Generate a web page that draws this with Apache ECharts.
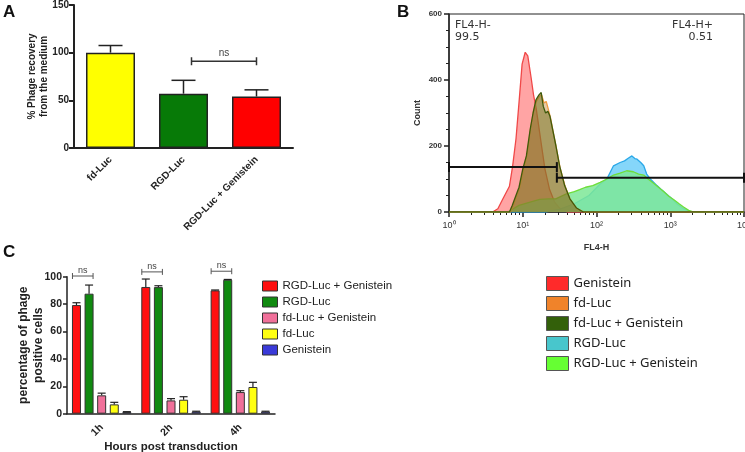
<!DOCTYPE html>
<html>
<head>
<meta charset="utf-8">
<script src="https://cdn.jsdelivr.net/npm/echarts@6/dist/echarts.min.js"></script>
<style>
  html, body { margin: 0; padding: 0; background: #fff; }
  #main { width: 745px; height: 452px; }
</style>
</head>
<body>
<div id="main"></div>
<script>
// ---- panel A : phage recovery ----
var aCats = ['fd-Luc', 'RGD-Luc', 'RGD-Luc + Genistein'];
var aVals = [100, 57, 54];
var aErr = [107.5, 71, 61];
var aColors = ['#ffff00', '#077a07', '#ff0000'];
var aNs = [1, 2, 91]; // from cat, to cat, height

// ---- panel B : FL4-H histograms [FL4-H, count] ----
var bNames = ['Genistein', 'fd-Luc', 'fd-Luc + Genistein', 'RGD-Luc', 'RGD-Luc + Genistein'];
var bGenistein = [[1,0],[3.9,0],[4.6,10],[5.3,37],[6.6,78],[7.3,140],[8.1,222],[9,345],[9.8,448],[10.8,484],[11.7,473],[13,406],[14,355],[15.2,314],[16,280],[18,200],[20,130],[23,70],[27,30],[32,10],[40,0],[10000,0]];
var bFdLuc = [[1,0],[6.8,0],[7.4,18],[9,70],[10.2,128],[11.4,172],[12.8,255],[14,305],[15.3,335],[16.8,350],[18,355],[19.5,330],[20.8,335],[22.3,310],[23.8,285],[26,240],[28.5,195],[32,135],[37.5,78],[44,38],[54,10],[68,0],[10000,0]];
var bFdLucGen = [[1,0],[6.6,0],[7.2,20],[8.9,75],[10,130],[11.2,170],[12.6,250],[13.8,300],[15.1,340],[16.6,355],[17.8,362],[19,320],[20.4,300],[21.9,305],[23.4,290],[25.7,245],[28.2,200],[31.6,140],[37,80],[43.6,40],[53.7,12],[66,0],[10000,0]];
var bRgdLuc = [[1,0],[20,0],[31.6,8],[50,25],[79,50],[112,85],[138,100],[170,140],[209,150],[240,155],[269,163],[302,170],[331,162],[355,160],[398,150],[437,140],[479,115],[537,100],[661,80],[741,70],[813,62],[912,52],[1000,45],[1230,25],[1514,10],[1862,0],[10000,0]];
var bRgdLucGen = [[1,0],[6.3,0],[8.9,20],[12.6,30],[17,38],[22.4,40],[28,40],[39,55],[50,62],[59,68],[71,75],[89,80],[112,90],[138,100],[170,112],[209,118],[257,125],[316,122],[372,115],[437,112],[501,100],[589,88],[692,75],[813,62],[955,48],[1122,37],[1318,25],[1514,15],[1778,5],[2089,0],[10000,0]];
var gateLeft = [[1, 136], [29, 136]];
var gateRight = [[29, 104], [10000, 104]];
var bLegendColors = ['#ff2a2a', '#f0832a', '#33600a', '#48c6cc', '#66ff33'];

// ---- panel C : phage positive cells ----
var cCats = ['1h', '2h', '4h'];
var cNames = ['RGD-Luc + Genistein', 'RGD-Luc', 'fd-Luc + Genistein', 'fd-Luc', 'Genistein'];
var cVals = [[79.3, 92.5, 90], [87.6, 92.4, 97.8], [13.4, 9.7, 15.8], [6.8, 10.2, 19.5], [1.2, 1.5, 1.5]];
var cErr = [[81, 98.3, 90.3], [93.9, 93.4, 98], [15, 11, 16.8], [8.3, 12.4, 22.9], [1.5, 1.8, 1.8]];
var cColors = ['#ff1010', '#108a10', '#f0709a', '#ffff10', '#3a3ad8'];
var cNs = [100.5, 103.5, 104];

var FONT = 'Liberation Sans, Arial, sans-serif';
var BAR_W = 9, BAR_STEP = 12.6;

var chart = echarts.init(document.getElementById('main'), null, { renderer: 'canvas' });

var minorLog = [];
[1, 10, 100, 1000].forEach(function (d) {
  for (var k = 2; k <= 9; k++) minorLog.push(k * d);
});
var sup = ['\u2070', '\u00b9', '\u00b2', '\u00b3', '\u2074'];

var series = [];

// C bars first so legends pick up rect icons
cNames.forEach(function (name, i) {
  series.push({
    name: name,
    type: 'bar',
    xAxisIndex: 2, yAxisIndex: 2,
    barWidth: BAR_W,
    barGap: '40%',
    data: cVals[i],
    itemStyle: { color: cColors[i], borderColor: '#333', borderWidth: 1 }
  });
});

// C error bars
var cErrData = [];
cNames.forEach(function (n, i) {
  cCats.forEach(function (c, j) { cErrData.push([j, i, cErr[i][j], cVals[i][j]]); });
});
series.push({
  type: 'custom', xAxisIndex: 2, yAxisIndex: 2, z: 5,
  data: cErrData,
  encode: { x: 0, y: 2 },
  renderItem: function (params, api) {
    var top = api.coord([api.value(0), api.value(2)]);
    var base = api.coord([api.value(0), api.value(3)]);
    var x = top[0] + (api.value(1) - 2) * BAR_STEP;
    var st = { stroke: '#222', lineWidth: 1.2 };
    return { type: 'group', children: [
      { type: 'line', shape: { x1: x, y1: top[1], x2: x, y2: base[1] }, style: st },
      { type: 'line', shape: { x1: x - 4, y1: top[1], x2: x + 4, y2: top[1] }, style: st }
    ] };
  }
});

// C ns brackets
series.push({
  type: 'custom', xAxisIndex: 2, yAxisIndex: 2, z: 5, clip: false,
  data: cNs.map(function (v, j) { return [j, v]; }),
  encode: { x: 0, y: 1 },
  renderItem: function (params, api) {
    var p = api.coord([api.value(0), api.value(1)]);
    var x1 = p[0] - 2 * BAR_STEP - 4, x2 = p[0] - BAR_STEP + 4;
    var st = { stroke: '#555', lineWidth: 1 };
    return { type: 'group', children: [
      { type: 'line', shape: { x1: x1, y1: p[1], x2: x2, y2: p[1] }, style: st },
      { type: 'line', shape: { x1: x1, y1: p[1] - 3, x2: x1, y2: p[1] + 3 }, style: st },
      { type: 'line', shape: { x1: x2, y1: p[1] - 3, x2: x2, y2: p[1] + 3 }, style: st },
      { type: 'text', style: { text: 'ns', x: (x1 + x2) / 2, y: p[1] - 1, align: 'center', verticalAlign: 'bottom', font: '9px ' + FONT, fill: '#444' } }
    ] };
  }
});

// A bars
series.push({
  type: 'bar', xAxisIndex: 0, yAxisIndex: 0,
  barWidth: 49,
  data: aVals.map(function (v, i) {
    return { value: v, itemStyle: { color: aColors[i] } };
  }),
  itemStyle: { borderColor: '#222', borderWidth: 1.5 }
});
series.push({
  type: 'custom', xAxisIndex: 0, yAxisIndex: 0, z: 5,
  data: aVals.map(function (v, i) { return [i, aErr[i], v]; }),
  encode: { x: 0, y: 1 },
  renderItem: function (params, api) {
    var top = api.coord([api.value(0), api.value(1)]);
    var base = api.coord([api.value(0), api.value(2)]);
    var st = { stroke: '#222', lineWidth: 1.5 };
    return { type: 'group', children: [
      { type: 'line', shape: { x1: top[0], y1: top[1], x2: base[0], y2: base[1] }, style: st },
      { type: 'line', shape: { x1: top[0] - 12, y1: top[1], x2: top[0] + 12, y2: top[1] }, style: st }
    ] };
  }
});
series.push({
  type: 'custom', xAxisIndex: 0, yAxisIndex: 0, z: 5,
  data: [aNs],
  encode: { x: 0, y: 2 },
  renderItem: function (params, api) {
    var p1 = api.coord([api.value(0), api.value(2)]);
    var p2 = api.coord([api.value(1), api.value(2)]);
    var x1 = p1[0] + 8, x2 = p2[0];
    var st = { stroke: '#333', lineWidth: 1.5 };
    return { type: 'group', children: [
      { type: 'line', shape: { x1: x1, y1: p1[1], x2: x2, y2: p1[1] }, style: st },
      { type: 'line', shape: { x1: x1, y1: p1[1] - 4, x2: x1, y2: p1[1] + 4 }, style: st },
      { type: 'line', shape: { x1: x2, y1: p1[1] - 4, x2: x2, y2: p1[1] + 4 }, style: st },
      { type: 'text', style: { text: 'ns', x: (x1 + x2) / 2, y: p1[1] - 3, align: 'center', verticalAlign: 'bottom', font: '10px ' + FONT, fill: '#444' } }
    ] };
  }
});

// B histograms
function hist(name, data, line, fill, z) {
  return {
    name: name, type: 'line', xAxisIndex: 1, yAxisIndex: 1,
    data: data, showSymbol: false, symbol: 'none', z: z,
    lineStyle: { color: line, width: 1.3 },
    itemStyle: { color: line },
    areaStyle: { color: fill, opacity: 1 }
  };
}
series.push(hist('Genistein', bGenistein, '#f04848', 'rgba(255,90,90,0.55)', 2));
series.push(hist('RGD-Luc', bRgdLuc, '#2aa8e8', 'rgba(120,210,250,0.9)', 3));
series.push(hist('RGD-Luc + Genistein', bRgdLucGen, '#6ede3a', 'rgba(125,232,150,0.85)', 4));
series.push(hist('fd-Luc', bFdLuc, '#f09a40', 'rgba(200,140,60,0.45)', 5));
series.push(hist('fd-Luc + Genistein', bFdLucGen, '#3f5a0c', 'rgba(110,110,30,0.5)', 6));

// gates
[gateLeft, gateRight].forEach(function (g) {
  series.push({
    type: 'line', xAxisIndex: 1, yAxisIndex: 1, z: 10,
    data: g, symbol: 'rect', symbolSize: [2, 10], showSymbol: true,
    lineStyle: { color: '#111', width: 2 }, itemStyle: { color: '#111' }
  });
});

var axisTextA = { color: '#222', fontFamily: FONT, fontWeight: 'bold', fontSize: 10 };

var option = {
  animation: false,
  backgroundColor: '#fff',
  textStyle: { fontFamily: FONT },
  grid: [
    { left: 74, right: 452, top: 5, bottom: 304, outerBoundsMode: 'none' },
    { left: 449, right: 1, top: 14, bottom: 240, show: true, borderColor: '#222', borderWidth: 1, outerBoundsMode: 'none' },
    { left: 67, right: 470, top: 276.7, bottom: 38.3, outerBoundsMode: 'none' }
  ],
  xAxis: [
    {
      type: 'category', gridIndex: 0, data: aCats,
      axisLine: { lineStyle: { color: '#222', width: 2 } },
      axisTick: { show: false },
      axisLabel: Object.assign({ rotate: 45, margin: 10, interval: 0 }, axisTextA)
    },
    {
      type: 'log', gridIndex: 1, logBase: 10, min: 1, max: 10000,
      name: 'FL4-H', nameLocation: 'middle', nameGap: 31, nameMoveOverlap: false,
      nameTextStyle: { fontSize: 9, color: '#333', fontWeight: 'bold' },
      axisLine: { lineStyle: { color: '#222', width: 1.5 } },
      axisTick: { length: 5, lineStyle: { color: '#222', width: 1.5 } },
      splitLine: { show: false },
      axisLabel: {
        fontSize: 9, color: '#333', margin: 9,
        formatter: function (v) { return '10' + sup[Math.round(Math.log10(v))]; }
      }
    },
    {
      type: 'category', gridIndex: 2, data: cCats,
      name: 'Hours post transduction', nameLocation: 'middle', nameGap: 26,
      nameTextStyle: { fontSize: 11.5, fontWeight: 'bold', color: '#222' },
      axisLine: { lineStyle: { color: '#222', width: 1.5 } },
      axisTick: { alignWithLabel: true, length: 4, lineStyle: { color: '#222' } },
      axisLabel: Object.assign({ rotate: 45, margin: 12, interval: 0 }, axisTextA, { fontSize: 10.5 })
    },
    {
      type: 'log', gridIndex: 1, logBase: 10, min: 1, max: 10000, position: 'bottom',
      axisLine: { show: false }, axisLabel: { show: false }, splitLine: { show: false },
      axisTick: { show: true, customValues: minorLog, length: 3, lineStyle: { color: '#222', width: 1 } }
    }
  ],
  yAxis: [
    {
      type: 'value', gridIndex: 0, min: 0, max: 150, interval: 50,
      name: '% Phage recovery\nfrom the medium', nameLocation: 'middle', nameGap: 24, nameMoveOverlap: false,
      nameTextStyle: { fontSize: 10, fontWeight: 'bold', color: '#222', lineHeight: 12 },
      axisLine: { show: true, lineStyle: { color: '#222', width: 2 } },
      axisTick: { show: true, length: 5, lineStyle: { color: '#222', width: 2 } },
      splitLine: { show: false },
      axisLabel: Object.assign({ margin: 5 }, axisTextA)
    },
    {
      type: 'value', gridIndex: 1, min: 0, max: 600, interval: 200,
      name: 'Count', nameLocation: 'middle', nameGap: 27, nameMoveOverlap: false,
      nameTextStyle: { fontSize: 9, color: '#333', fontWeight: 'bold' },
      axisLine: { show: true, lineStyle: { color: '#222', width: 1.5 } },
      axisTick: { show: true, length: 5, lineStyle: { color: '#222', width: 1.5 } },
      minorTick: { show: true, splitNumber: 4, length: 3, lineStyle: { color: '#222' } },
      splitLine: { show: false },
      axisLabel: { fontSize: 8, color: '#333', fontWeight: 'bold', margin: 7 }
    },
    {
      type: 'value', gridIndex: 2, min: 0, max: 100, interval: 20,
      name: 'percentage of phage\npositive cells', nameLocation: 'middle', nameGap: 21, nameMoveOverlap: false,
      nameTextStyle: { fontSize: 12, fontWeight: 'bold', color: '#222', lineHeight: 15 },
      axisLine: { show: true, lineStyle: { color: '#222', width: 1.5 } },
      axisTick: { show: true, length: 4, lineStyle: { color: '#222', width: 1.5 } },
      splitLine: { show: false },
      axisLabel: Object.assign({ margin: 5 }, axisTextA, { fontSize: 10.5 })
    }
  ],
  legend: [
    {
      orient: 'vertical', left: 257, top: 275,
      icon: 'rect', itemWidth: 15, itemHeight: 10, itemGap: 4,
      textStyle: { fontSize: 11.5, color: '#222', fontFamily: FONT },
      data: cNames.map(function (n, i) {
        return { name: n, itemStyle: { color: cColors[i], borderColor: '#333', borderWidth: 1 } };
      })
    },
    {
      orient: 'vertical', left: 541, top: 271,
      icon: 'rect', itemWidth: 22, itemHeight: 14, itemGap: 5,
      textStyle: { fontSize: 13, color: '#222', fontFamily: 'Noto Sans, Open Sans, sans-serif' },
      data: bNames.map(function (n, i) {
        return { name: n, itemStyle: { color: bLegendColors[i], borderColor: '#555', borderWidth: 1 } };
      })
    }
  ],
  graphic: [
    { type: 'text', x: 3, y: 4, style: { text: 'A', font: 'bold 17px ' + FONT, fill: '#111' } },
    { type: 'text', x: 397, y: 4, style: { text: 'B', font: 'bold 17px ' + FONT, fill: '#111' } },
    { type: 'text', x: 3, y: 244, style: { text: 'C', font: 'bold 17px ' + FONT, fill: '#111' } },
    { type: 'text', x: 455, y: 25, style: { text: 'FL4-H-', font: '11px DejaVu Sans', fill: '#333', verticalAlign: 'middle' } },
    { type: 'text', x: 455, y: 37, style: { text: '99.5', font: '11px DejaVu Sans', fill: '#333', verticalAlign: 'middle' } },
    { type: 'text', x: 713, y: 25, style: { text: 'FL4-H+', font: '11px DejaVu Sans', fill: '#333', align: 'right', verticalAlign: 'middle' } },
    { type: 'text', x: 713, y: 37, style: { text: '0.51', font: '11px DejaVu Sans', fill: '#333', align: 'right', verticalAlign: 'middle' } }
  ],
  series: series
};

chart.setOption(option);
</script>
</body>
</html>
